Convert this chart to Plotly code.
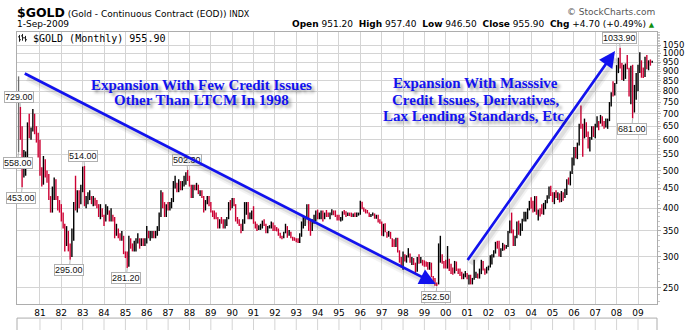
import math
import pandas as pd
import plotly.graph_objects as go

# $GOLD continuous contract, monthly bars Jan 1980 .. Sep 2009
highs = [
    873, 729, 650, 565, 560, 665, 700, 645, 720, 700, 650, 625,          # 1980
    600, 510, 545, 535, 500, 490, 430, 455, 480, 475, 430, 420,          # 1981
    410, 390, 365, 360, 350, 325, 355, 415, 485, 445, 445, 460,          # 1982
    512, 514, 430, 440, 445, 430, 430, 426, 420, 410, 410, 400,          # 1983
    385, 410, 405, 395, 400, 385, 380, 365, 355, 345, 350, 340,          # 1984
    310, 310, 340, 335, 325, 330, 335, 345, 335, 335, 335, 335,          # 1985
    360, 350, 350, 350, 350, 350, 360, 390, 445, 440, 415, 410,          # 1986
    415, 415, 425, 470, 485, 465, 475, 470, 470, 485, 495, 502.3,        # 1987
    485, 460, 460, 460, 465, 460, 445, 445, 430, 420, 430, 430,          # 1988
    415, 395, 395, 390, 380, 375, 380, 375, 375, 380, 415, 420,          # 1989
    425, 425, 410, 380, 375, 365, 375, 415, 415, 415, 390, 395,          # 1990
    405, 370, 365, 362, 365, 372, 375, 365, 360, 362, 370, 368,          # 1991
    362, 358, 355, 346, 340, 348, 365, 360, 352, 348, 338, 337,          # 1992
    335, 335, 345, 370, 380, 380, 410, 410, 375, 375, 385, 395,          # 1993
    397, 390, 395, 395, 390, 396, 390, 390, 398, 395, 395, 385,          # 1994
    385, 380, 393, 396, 393, 390, 390, 390, 388, 390, 390, 390,          # 1995
    418, 416, 402, 398, 396, 390, 387, 390, 388, 385, 385, 375,          # 1996
    370, 365, 366, 348, 350, 348, 335, 333, 336, 336, 312, 300,          # 1997
    310, 305, 303, 316, 306, 300, 298, 290, 300, 305, 300, 295,          # 1998
    294, 292, 291, 291, 290, 268, 265, 258, 325, 340, 305, 293,          # 1999
    295, 320, 297, 288, 282, 293, 292, 280, 280, 275, 272, 276,          # 2000
    273, 270, 270, 265, 295, 275, 272, 280, 295, 293, 280, 283,          # 2001
    285, 303, 305, 312, 328, 330, 330, 316, 326, 323, 322, 350,          # 2002
    372, 390, 353, 340, 370, 372, 366, 376, 392, 392, 400, 418,          # 2003
    427, 418, 430, 430, 397, 400, 410, 413, 420, 432, 455, 457,          # 2004
    440, 440, 445, 440, 437, 443, 440, 449, 475, 480, 498, 540,          # 2005
    575, 575, 590, 660, 735, 660, 680, 665, 630, 610, 650, 650,          # 2006
    660, 690, 670, 695, 690, 670, 680, 680, 750, 795, 848, 840,          # 2007
    933, 975, 1033.9, 945, 935, 942, 990, 918, 930, 935, 830, 890,       # 2008
    935, 1007, 960, 920, 980, 990, 960, 965, 957.4,                      # 2009
]
lows = [
    558, 600, 453, 480, 485, 530, 605, 600, 630, 620, 590, 540,
    485, 455, 460, 480, 465, 420, 390, 390, 420, 420, 395, 390,
    370, 355, 310, 320, 310, 295, 300, 330, 395, 390, 400, 410,
    440, 405, 400, 410, 420, 410, 405, 406, 400, 380, 375, 380,
    360, 370, 385, 370, 370, 370, 335, 340, 335, 330, 330, 305,
    298, 281.2, 283, 315, 310, 310, 310, 325, 315, 320, 320, 320,
    325, 335, 330, 335, 335, 335, 340, 350, 380, 400, 380, 380,
    395, 395, 400, 415, 450, 440, 440, 445, 445, 455, 460, 470,
    455, 425, 425, 445, 445, 435, 430, 425, 390, 395, 410, 405,
    390, 380, 375, 375, 355, 355, 365, 355, 355, 360, 375, 395,
    400, 405, 370, 365, 360, 345, 350, 365, 385, 375, 375, 375,
    365, 355, 350, 352, 352, 355, 360, 345, 345, 355, 355, 350,
    350, 349, 340, 335, 333, 335, 345, 336, 340, 335, 330, 330,
    327, 326, 326, 338, 355, 360, 375, 350, 340, 350, 365, 370,
    375, 375, 375, 370, 375, 380, 380, 375, 384, 384, 380, 372,
    372, 370, 372, 385, 380, 382, 382, 380, 380, 380, 380, 383,
    385, 398, 392, 388, 388, 380, 380, 383, 376, 376, 368, 365,
    340, 339, 347, 336, 338, 334, 318, 318, 318, 308, 290, 282,
    278, 292, 290, 299, 290, 286, 286, 272, 275, 288, 289, 285,
    283, 283, 278, 278, 266, 257, 253, 252.5, 255, 290, 288, 280,
    280, 280, 276, 271, 270, 272, 276, 271, 268, 263, 263, 266,
    263, 255, 255, 255, 262, 265, 264, 264, 271, 277, 270, 272,
    277, 282, 287, 299, 306, 315, 301, 300, 311, 312, 315, 318,
    345, 345, 320, 320, 335, 342, 340, 350, 370, 370, 375, 395,
    399, 390, 392, 385, 372, 381, 386, 385, 398, 412, 423, 430,
    415, 410, 425, 420, 414, 415, 418, 425, 433, 460, 458, 490,
    515, 538, 535, 580, 640, 543, 605, 610, 570, 560, 600, 610,
    605, 645, 635, 660, 650, 640, 645, 640, 670, 730, 775, 780,
    835, 890, 915, 855, 850, 860, 910, 775, 740, 681, 705, 760,
    800, 890, 866, 865, 870, 910, 905, 930, 946.5,
]
closes = [
    653, 637, 494, 518, 535, 653, 614, 631, 667, 629, 619, 589,
    506, 489, 513, 482, 480, 425, 408, 425, 430, 428, 414, 400,
    387, 362, 320, 350, 318, 315, 342, 411, 397, 423, 417, 456,
    481, 410, 414, 432, 437, 416, 422, 414, 405, 382, 405, 382,
    373, 395, 398, 377, 384, 377, 346, 348, 343, 334, 342, 309,
    306, 299, 330, 321, 316, 317, 328, 334, 325, 326, 325, 327,
    349, 339, 344, 346, 343, 345, 357, 384, 423, 401, 383, 408,
    405, 407, 419, 454, 461, 448, 463, 453, 460, 469, 492, 484,
    458, 427, 457, 451, 455, 436, 437, 430, 396, 412, 422, 410,
    394, 388, 383, 377, 362, 373, 368, 359, 367, 378, 408, 401,
    415, 408, 375, 367, 363, 353, 372, 388, 408, 381, 384, 386,
    366, 363, 355, 357, 360, 368, 362, 348, 355, 357, 366, 354,
    353, 353, 342, 337, 337, 344, 357, 342, 349, 340, 334, 334,
    332, 328, 340, 356, 378, 379, 404, 373, 356, 369, 371, 392,
    380, 382, 391, 376, 388, 386, 384, 386, 395, 389, 384, 383,
    375, 377, 391, 389, 385, 387, 384, 383, 385, 383, 387, 388,
    405, 402, 397, 391, 391, 383, 385, 387, 379, 380, 371, 369,
    345, 364, 348, 341, 345, 335, 325, 325, 333, 312, 296, 290,
    305, 297, 301, 308, 293, 298, 288, 274, 296, 292, 294, 289,
    287, 287, 279, 286, 268, 262, 255, 255, 299, 300, 292, 289,
    284, 293, 277, 274, 273, 289, 278, 278, 274, 265, 269, 273,
    266, 267, 258, 264, 267, 271, 266, 273, 293, 279, 275, 279,
    283, 297, 302, 308, 327, 318, 305, 313, 324, 317, 319, 348,
    367, 348, 334, 337, 364, 346, 354, 375, 385, 386, 398, 416,
    400, 396, 425, 388, 394, 392, 391, 409, 416, 429, 453, 438,
    422, 436, 428, 436, 417, 437, 430, 434, 472, 470, 496, 518,
    569, 566, 585, 654, 645, 616, 636, 626, 599, 605, 648, 635,
    652, 665, 662, 680, 661, 650, 667, 673, 745, 790, 784, 836,
    923, 972, 934, 867, 888, 928, 914, 831, 880, 718, 817, 884,
    928, 942, 916, 883, 978, 927, 954, 951.2, 955.9,
]
first_open = 560.0

# swing high / low callouts: (value, which side of the bar)
swing_labels = [
    (729.00, "high"), (558.00, "low"), (453.00, "low"), (514.00, "high"),
    (295.00, "low"), (281.20, "low"), (502.30, "high"), (252.50, "low"),
    (1033.90, "high"), (681.00, "low"),
]

price_ticks = [250, 300, 350, 400, 450, 500, 550, 600, 650, 700, 750,
               800, 850, 900, 950, 1000, 1050]
year_labels = ["81", "82", "83", "84", "85", "86", "87", "88", "89", "90",
               "91", "92", "93", "94", "95", "96", "97", "98", "99", "00",
               "01", "02", "03", "04", "05", "06", "07", "08", "09"]
year_ticks = [f"{1981 + i}-01-01" for i in range(len(year_labels))]

dates = pd.date_range("1980-01-01", periods=len(closes), freq="MS")
opens = [first_open] + closes[:-1]

# ---- page geometry (pixels) ----
W, H = 696, 330
L, R, T, B = 17, 39, 32, 18
PW, PH = W - L - R, H - T - B


def px_x(px):
    return (px - L) / PW


def px_y(py):
    return (T + PH - py) / PH


RED = "#CC0033"
BLUE = "#1212EE"
GRID = "#D4D4D4"
FRAME = "#ADADAD"

fig = go.Figure()

# first bar has no prior close -> neutral colour
fig.add_trace(go.Ohlc(
    x=dates[:1], open=opens[:1], high=highs[:1], low=lows[:1], close=closes[:1],
    increasing=dict(line=dict(color="#6E6E6E", width=1.3)),
    decreasing=dict(line=dict(color="#6E6E6E", width=1.3)),
    tickwidth=0, hoverinfo="skip", showlegend=False,
))
fig.add_trace(go.Ohlc(
    x=dates[1:], open=opens[1:], high=highs[1:], low=lows[1:], close=closes[1:],
    increasing=dict(line=dict(color="#000000", width=1.4)),
    decreasing=dict(line=dict(color=RED, width=1.4)),
    tickwidth=0.3, showlegend=False,
))

annotations = []

# swing callouts anchored on the bars that carry those values
for value, side in swing_labels:
    series = highs if side == "high" else lows
    idx = min(range(len(series)), key=lambda i: abs(series[i] - value))
    annotations.append(dict(
        x=dates[idx], y=math.log10(series[idx]), xref="x", yref="y",
        text=f"{value:.2f}", showarrow=True, arrowhead=0, arrowwidth=1,
        arrowcolor="#B5B5B5", ax=-1, ay=(-10 if side == "high" else 10.5),
        standoff=0, bgcolor="white", bordercolor="#B0B0B0", borderwidth=1,
        borderpad=0, font=dict(family="Liberation Sans", size=9, color="#111"),
    ))

# trend arrows (tail -> head) in date / price space, with soft drop shadow
arrows = [
    (("1980-03-21", 892), ("1999-07-14", 255.5)),
    (("2000-12-23", 292), ("2007-12-05", 1014)),
]
for (t_date, t_val), (h_date, h_val) in arrows:
    # blurred shadow: two faint bands offset down/right
    for width, alpha in ((8, 0.06), (4, 0.10)):
        annotations.append(dict(
            x=h_date, y=math.log10(h_val), xref="x", yref="y",
            ax=t_date, ay=math.log10(t_val), axref="x", ayref="y",
            text="", showarrow=True, arrowhead=0, arrowwidth=width,
            arrowcolor=f"rgba(60,60,60,{alpha})",
            xshift=3, yshift=-4, standoff=4,
        ))
    annotations.append(dict(
        x=h_date, y=math.log10(h_val), xref="x", yref="y",
        ax=t_date, ay=math.log10(t_val), axref="x", ayref="y",
        text="", showarrow=True, arrowhead=2, arrowsize=1.2,
        arrowwidth=2.7, arrowcolor=BLUE, standoff=0,
    ))

# commentary text
comment_font = dict(family="Liberation Serif", size=15, color=BLUE,
                    weight="bold", shadow="3px 3px 3px rgba(0,0,0,0.35)")
for text, cx, cy in [
    ("Expansion With Few Credit Issues", 201.7, 86.5),
    ("Other Than LTCM In 1998", 201.7, 102.5),
    ("Expansion With Masssive", 475, 84.5),
    ("Credit Issues, Derivatives,", 475, 101.5),
    ("Lax Lending Standards, Etc.", 475, 118.3),
]:
    annotations.append(dict(
        x=px_x(cx), y=px_y(cy), xref="paper", yref="paper", text=text,
        showarrow=False, xanchor="center", yanchor="middle", font=comment_font,
    ))

# header
hdr_font = dict(family="DejaVu Sans", size=9, color="#000")
annotations += [
    dict(x=px_x(15), y=px_y(12), xref="paper", yref="paper",
         xanchor="left", yanchor="middle", showarrow=False,
         text=("<b><span style='font-size:12.5px'>$GOLD</span></b> "
               "(Gold - Continuous Contract (EOD)) "
               "<span style='font-size:8px'>INDX</span>"),
         font=hdr_font),
    dict(x=px_x(15), y=px_y(24), xref="paper", yref="paper",
         xanchor="left", yanchor="middle", showarrow=False,
         text=dates[-1].strftime("%-d-%b-%Y"), font=hdr_font),
    dict(x=px_x(657), y=px_y(11), xref="paper", yref="paper",
         xanchor="right", yanchor="middle", showarrow=False,
         text="© StockCharts.com",
         font=dict(family="DejaVu Sans", size=9, color="#555")),
]
chg = closes[-1] - closes[-2]
pct = chg / closes[-2] * 100
annotations.append(dict(
    x=px_x(657), y=px_y(24), xref="paper", yref="paper",
    xanchor="right", yanchor="middle", showarrow=False, font=hdr_font,
    text=(f"<b>Open</b> {opens[-1]:.2f}  <b>High</b> {highs[-1]:.2f}  "
          f"<b>Low</b> {lows[-1]:.2f}  <b>Close</b> {closes[-1]:.2f}  "
          f"<b>Chg</b> {chg:+.2f} ({pct:+.2f}%) "
          "<span style='color:#109010;font-size:7px'>▲</span>"),
))
annotations.append(dict(
    x=px_x(31), y=px_y(38.5), xref="paper", yref="paper",
    xanchor="left", yanchor="middle", showarrow=False,
    text=f"$GOLD (Monthly) {closes[-1]:.2f}",
    font=dict(family="DejaVu Sans Mono", size=10, color="#000"),
))

shapes = [
    # blank strip behind the series caption
    dict(type="rect", xref="paper", yref="paper", x0=px_x(17.5), x1=px_x(186),
         y0=px_y(45), y1=px_y(32.5), fillcolor="white", line=dict(width=0),
         layer="below"),
    # top edge of the next (cut-off) panel
    dict(type="rect", xref="paper", yref="paper", x0=0, x1=1,
         y0=px_y(345), y1=px_y(326.5), line=dict(color=FRAME, width=1)),
]
# little bar-chart glyph in the caption
for gx, top, bot, lt, rt in [(19.5, 35, 42, 37, 40), (22.5, 34, 41, 36, 38),
                             (25.5, 36, 42, 38, 40)]:
    shapes.append(dict(type="line", xref="paper", yref="paper",
                       x0=px_x(gx), x1=px_x(gx), y0=px_y(bot), y1=px_y(top),
                       line=dict(color="#222", width=1)))
    shapes.append(dict(type="line", xref="paper", yref="paper",
                       x0=px_x(gx - 1.5), x1=px_x(gx), y0=px_y(lt), y1=px_y(lt),
                       line=dict(color="#222", width=1)))
    shapes.append(dict(type="line", xref="paper", yref="paper",
                       x0=px_x(gx), x1=px_x(gx + 1.5), y0=px_y(rt), y1=px_y(rt),
                       line=dict(color="#222", width=1)))
for d in year_ticks:
    shapes.append(dict(type="line", xref="x", yref="paper", x0=d, x1=d,
                       y0=px_y(340), y1=px_y(326.5),
                       line=dict(color=GRID, width=1)))

fig.update_layout(
    width=W, height=H, margin=dict(l=L, r=R, t=T, b=B),
    paper_bgcolor="white", plot_bgcolor="white",
    showlegend=False, annotations=annotations, shapes=shapes,
    xaxis=dict(
        type="date", range=["1979-12-05", "2009-11-22"],
        tickmode="array", tickvals=year_ticks, ticktext=year_labels,
        showgrid=True, gridcolor=GRID, gridwidth=1, ticks="",
        tickfont=dict(family="DejaVu Sans", size=9, color="#000"),
        showline=True, linecolor=FRAME, linewidth=1, mirror=True,
        zeroline=False, rangeslider=dict(visible=False),
    ),
    yaxis=dict(
        type="log", side="right",
        range=[math.log10(227.1), math.log10(1135)],
        tickmode="array", tickvals=price_ticks,
        ticktext=[str(v) for v in price_ticks],
        showgrid=True, gridcolor=GRID, gridwidth=1,
        ticks="outside", ticklen=3, tickcolor=FRAME,
        minor=dict(tickvals=list(range(230, 1140, 10)), ticks="outside",
                   ticklen=2, tickcolor="#C8C8C8", showgrid=False),
        tickfont=dict(family="DejaVu Sans", size=8.5, color="#000"),
        showline=True, linecolor=FRAME, linewidth=1, mirror=True,
        zeroline=False,
    ),
)

fig.write_html("out.html", config={"displayModeBar": False})
